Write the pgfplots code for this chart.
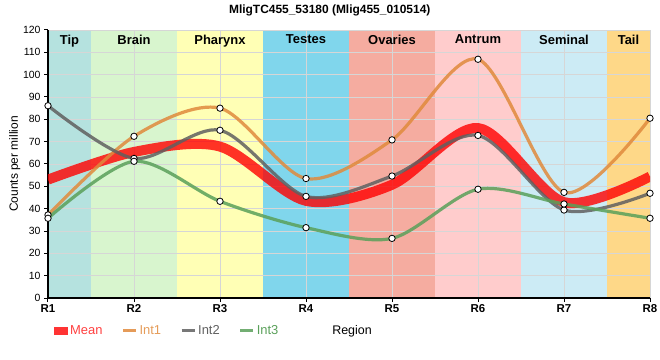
\documentclass[border=0pt]{standalone}
\usepackage{pgfplots}
\pgfplotsset{compat=1.18}
\usepackage{fontspec}
\setmainfont{Liberation Sans}
\definecolor{cTip}{RGB}{181,226,223}
\definecolor{cBrain}{RGB}{216,245,206}
\definecolor{cPharynx}{RGB}{255,255,181}
\definecolor{cTestes}{RGB}{128,214,236}
\definecolor{cOvaries}{RGB}{245,172,160}
\definecolor{cAntrum}{RGB}{255,204,204}
\definecolor{cSeminal}{RGB}{204,235,245}
\definecolor{cTail}{RGB}{254,216,136}
\definecolor{cMean}{RGB}{255,0,0}
\definecolor{cInt1}{RGB}{224,138,60}
\definecolor{cInt2}{RGB}{96,96,96}
\definecolor{cInt3}{RGB}{90,160,90}
\pgfplotstableread{
x y
1 53.0
2 65.4
3 67.8
4 43.5
5 50.7
6 76.1
7 42.9
8 54.4
}\tmean
\pgfplotstableread{
x y
1 37.2
2 72.4
3 85.0
4 53.5
5 70.8
6 106.9
7 47.3
8 80.5
}\tint
\pgfplotstableread{
x y
1 86.1
2 62.5
3 75.1
4 45.5
5 54.6
6 72.8
7 39.4
8 46.9
}\tintb
\pgfplotstableread{
x y
1 35.7
2 61.2
3 43.3
4 31.5
5 26.7
6 48.7
7 42.1
8 35.7
}\tintc
\begin{document}
\begin{tikzpicture}
\path[use as bounding box] (-48bp,-62bp) rectangle (612bp,298bp);
% background bands
\begin{axis}[at={(0,0)}, anchor=south west, scale only axis,
  width=602bp, height=268bp,
  xmin=1, xmax=8, ymin=0, ymax=120, hide axis]
\fill[cTip] (axis cs:1,0) rectangle (axis cs:1.5,120);
\fill[cBrain] (axis cs:1.5,0) rectangle (axis cs:2.5,120);
\fill[cPharynx] (axis cs:2.5,0) rectangle (axis cs:3.5,120);
\fill[cTestes] (axis cs:3.5,0) rectangle (axis cs:4.5,120);
\fill[cOvaries] (axis cs:4.5,0) rectangle (axis cs:5.5,120);
\fill[cAntrum] (axis cs:5.5,0) rectangle (axis cs:6.5,120);
\fill[cSeminal] (axis cs:6.5,0) rectangle (axis cs:7.5,120);
\fill[cTail] (axis cs:7.5,0) rectangle (axis cs:8,120);
\end{axis}
\begin{axis}[at={(0,0)}, anchor=south west, scale only axis,
  width=602bp, height=268bp,
  xmin=1, xmax=8, ymin=0, ymax=120,
  clip mode=individual,
  axis x line*=bottom, axis y line*=left,
  axis line style={line width=2.2bp, -},
  xtick={1,2,3,4,5,6,7,8}, xticklabels={R1,R2,R3,R4,R5,R6,R7,R8},
  ytick={0,10,...,120},
  grid=major, major grid style={draw=black!16, line width=0.8bp},
  tick style={black, line width=1bp}, tick align=outside, major tick length=4bp,
  /pgf/number format/assume math mode=true,
  xticklabel style={font=\bfseries\fontsize{11.5}{13}\selectfont, yshift=1bp},
  yticklabel style={font=\fontsize{10.5}{12}\selectfont},
  ylabel={Counts per million},
  ylabel style={at={(axis description cs:-0.055,0.5)}, anchor=center, font=\fontsize{12}{14}\selectfont},
  legend style={draw=none, fill=none, at={(0.005,-0.123)}, anchor=west,
    font=\fontsize{13}{15}\selectfont,
    /tikz/every even column/.append style={column sep=17bp}},
  legend columns=-1,
]
\addplot[cMean, line width=10bp, draw opacity=0.8, smooth, tension=0.5,
  legend image code/.code={\fill[cMean, draw=none, line width=0pt, fill opacity=0.8] (0bp,-4bp) rectangle (14bp,4bp);}] table {\tmean};
\addlegendentry{\textcolor{cMean!75}{Mean}}
\addplot[cInt1, line width=3.2bp, draw opacity=0.85, smooth, tension=0.5,
  legend image code/.code={\draw[cInt1, line width=3bp] (0bp,0bp) -- (13bp,0bp);}] table {\tint};
\addlegendentry{\textcolor{cInt1!85}{Int1}}
\addplot[cInt2, line width=3.2bp, draw opacity=0.85, smooth, tension=0.5,
  legend image code/.code={\draw[cInt2, line width=3bp] (0bp,0bp) -- (13bp,0bp);}] table {\tintb};
\addlegendentry{\textcolor{cInt2}{Int2}}
\addplot[cInt3, line width=3.2bp, draw opacity=0.85, smooth, tension=0.5,
  legend image code/.code={\draw[cInt3, line width=3bp] (0bp,0bp) -- (13bp,0bp);}] table {\tintc};
\addlegendentry{\textcolor{cInt3}{Int3}}
\addplot[only marks, mark=*, mark size=3.2bp, mark options={draw=black, fill=white, line width=0.8bp}, forget plot] table {\tint};
\addplot[only marks, mark=*, mark size=3.2bp, mark options={draw=black, fill=white, line width=0.8bp}, forget plot] table {\tintb};
\addplot[only marks, mark=*, mark size=3.2bp, mark options={draw=black, fill=white, line width=0.8bp}, forget plot] table {\tintc};
\node[anchor=north, font=\bfseries\fontsize{13}{15}\selectfont, yshift=-1.5bp] at (axis cs:1.25,120) {Tip};
\node[anchor=north, font=\bfseries\fontsize{13}{15}\selectfont, yshift=-1.5bp] at (axis cs:2,120) {Brain};
\node[anchor=north, font=\bfseries\fontsize{13}{15}\selectfont, yshift=-1.5bp] at (axis cs:3,120) {Pharynx};
\node[anchor=north, font=\bfseries\fontsize{13}{15}\selectfont, yshift=-1.5bp] at (axis cs:4,120) {Testes};
\node[anchor=north, font=\bfseries\fontsize{13}{15}\selectfont, yshift=-1.5bp] at (axis cs:5,120) {Ovaries};
\node[anchor=north, font=\bfseries\fontsize{13}{15}\selectfont, yshift=-1.5bp] at (axis cs:6,120) {Antrum};
\node[anchor=north, font=\bfseries\fontsize{13}{15}\selectfont, yshift=-1.5bp] at (axis cs:7,120) {Seminal};
\node[anchor=north, font=\bfseries\fontsize{13}{15}\selectfont, yshift=-1.5bp] at (axis cs:7.75,120) {Tail};
\node[font=\bfseries\fontsize{12}{14}\selectfont] at (rel axis cs:0.468,1) [yshift=20bp] {MligTC455\_53180 (Mlig455\_010514)};
\node[font=\fontsize{12.5}{14}\selectfont] at (rel axis cs:0.505,0) [yshift=-33bp] {Region};
\end{axis}
\end{tikzpicture}
\end{document}
